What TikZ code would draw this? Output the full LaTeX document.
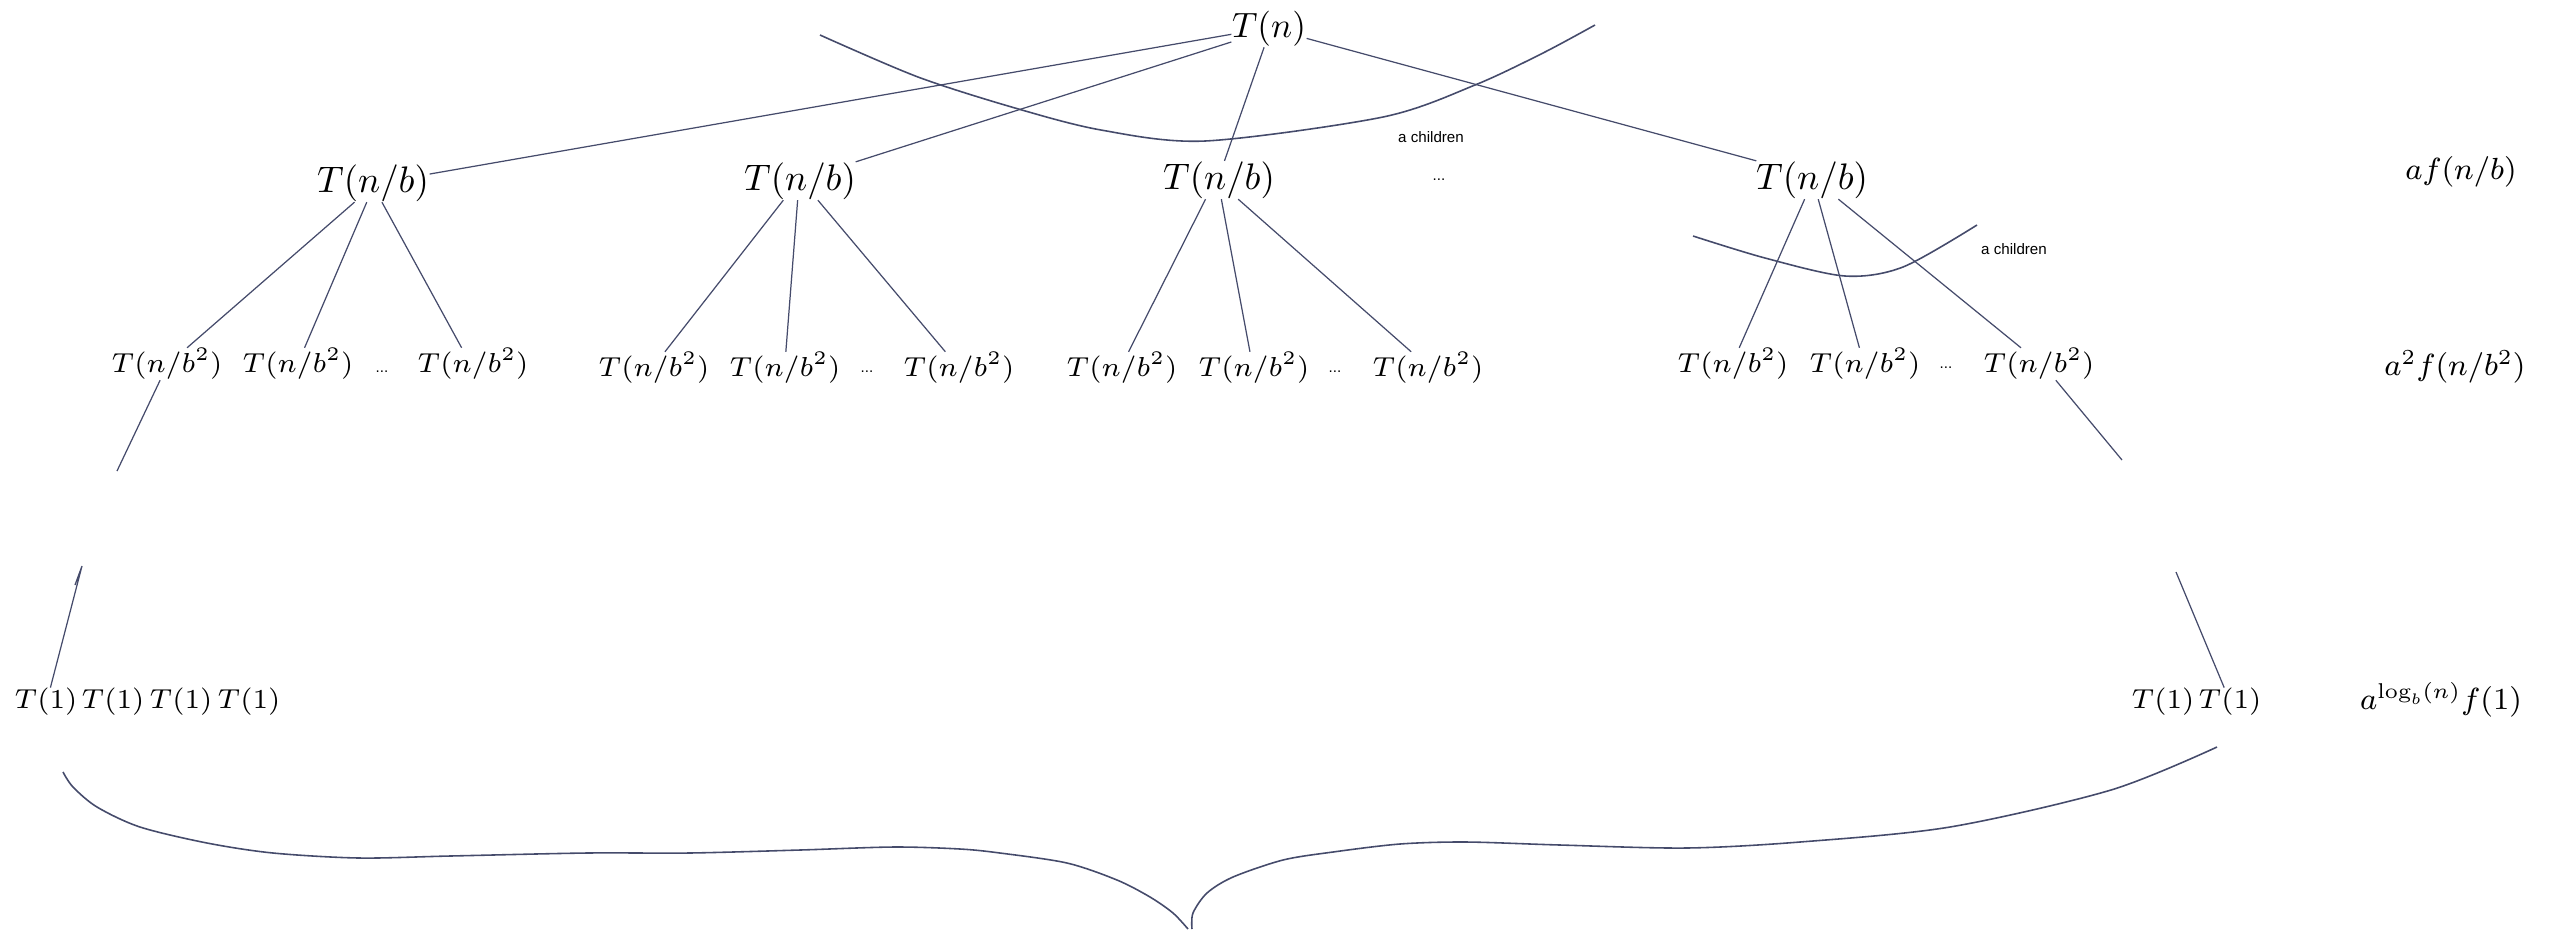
\RequirePackage{fix-cm}
\documentclass[tikz,border=0pt]{standalone}
\usepackage{fontspec}
\newfontfamily\labelfont{Liberation Sans}
\definecolor{ink}{HTML}{454B6B}

\begin{document}
\begin{tikzpicture}[x=0.01cm, y=-0.01cm]
\tikzset{bigterm/.style =
        {
            inner sep=0pt,
            font=\fontsize{10}{12}\selectfont
        }
}

\tikzset{term/.style =
        {
            bigterm,
            font=\fontsize{10.5}{12}\selectfont
        }
}

\tikzset{smallterm/.style =
        {
            bigterm,
            font=\fontsize{7.8}{9}\selectfont
        }
}

\tikzset{cost/.style =
        {
            bigterm,
            font=\fontsize{8.7}{10}\selectfont
        }
}

\tikzset{note/.style =
        {
            inner sep=0pt,
            font=\labelfont\fontsize{4.3}{5}\selectfont
        }
}

\tikzset{branch/.style = { line width=0.35pt, ink } }

\tikzset{sweep/.style = { line width=0.45pt, ink } }

\useasboundingbox (0,0) rectangle (2550,929);

% the tree
\node[bigterm] (root) at (1269,29) {$T(n)$};

\foreach \name / \x / \y in
    {p1/373/183,
        p2/800/181,
        p3/1219/180,
        p4/1812/180}
\node[term] (\name) at (\x,\y) {$T(n/b)$};

\foreach \name / \x / \y in
    {q11/167/364, q12/298/364, q13/473/364,
        q21/654/368, q22/785/368, q23/959/368,
        q31/1122/368, q32/1254/368, q33/1428/368,
        q41/1733/364, q42/1865/364, q43/2039/364}
\node[smallterm] (\name) at (\x,\y) {$T(n/b^2)$};

\foreach \name / \x in {r1/46, r2/113, r3/181, r4/249, r5/2163, r6/2230}
\node[smallterm] (\name) at (\x,702) {$T(1)$};

% dots and notes
\foreach \name / \x / \y in
    {pd/1439/180, qd1/382/372, qd2/867/372, qd3/1335/372, qd4/1946/368}
\node[note] (\name) at (\x,\y) {...};

\node[note] (kids1) at (1431,137) {a children};
\node[note] (kids2) at (2014,249) {a children};

% costs per level
\node[cost] (cost1) at (2461,172) {$af(n/b)$};
\node[cost] (cost2) at (2455,367) {$a^2f(n/b^2)$};
\node[cost] (cost3) at (2441,700) {$a^{\log_b(n)}f(1)$};

% loose ends
\coordinate (lo1) at (117,471);
\coordinate (lo2) at (82,566);
\coordinate (spur) at (75,585);
\coordinate (lo3) at (2122,460);
\coordinate (lo4) at (2176,572);

\foreach \start / \finish in
    {root.188/p1.9, root.199/p2.19, root.255/p3.74, root.346/p4.161,
        p1.226/q11.39, p1.252/q12.68, p1.295/q13.125,
        p2.229/q21.56, p2.263/q22.87, p2.313/q23.130,
        p3.235/q31.68, p3.277/q32.104, p3.315/q33.136,
        p4.249/q41.69, p4.288/q42.109, p4.324/q43.138,
        q11.247/lo1, q43.316/lo3, lo4/r6.112}
{
    \draw[branch] (\start) -- (\finish);
}
\draw[branch] (spur) -- (lo2) -- (r1.73);

% braces
\draw[sweep] plot[smooth] coordinates
    {(820,35) (918,77) (1015,108) (1101,130) (1205,141) (1383,117) (1475,85) (1543,53) (1595,25)};
\draw[sweep] plot[smooth] coordinates
    {(1693,236) (1765,258) (1845,276) (1903,267) (1977,225)};
\draw[sweep] plot[smooth] coordinates
    {(63,772) (73,787) (97,807) (140,827) (207,843) (273,853) (359,858) (450,856) (587,853)
     (689,853) (800,850) (894,847) (960,849) (1000,853) (1067,863) (1117,880) (1150,897)
     (1173,913) (1188,929)};
\draw[sweep] plot[smooth] coordinates
    {(1192,929) (1193,913) (1207,893) (1233,877) (1283,860) (1333,852) (1400,844) (1466,842)
     (1560,845) (1686,848) (1800,842) (1950,827) (2111,790) (2217,747)};

\end{tikzpicture}
\end{document}
